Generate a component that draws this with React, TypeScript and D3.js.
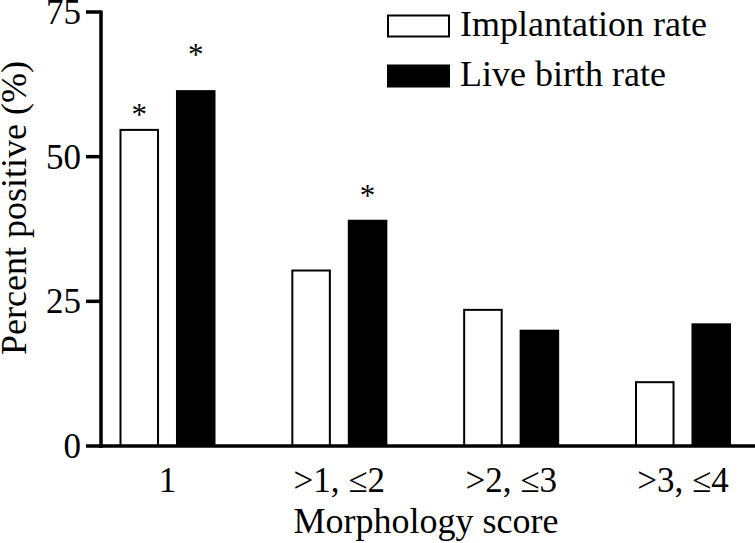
import React from "react";
import * as d3 from "d3";

const categories = ["1", ">1, \u22642", ">2, \u22643", ">3, \u22644"];
const seriesNames = ["Implantation rate", "Live birth rate"];
const implantation = [54.8, 30.5, 23.7, 11.2];
const liveBirth = [61.5, 39.1, 20.1, 21.2];
const yTicks = [0, 25, 50, 75];
// significance markers: category index, series index, level (in % units) of the asterisk baseline
const starCat = [0, 0, 1];
const starSeries = [0, 1, 1];
const starLevel = [55.5, 65.8, 41.5];

const W = 755;
const H = 543;
const FF = "'Liberation Serif', 'Times New Roman', Times, serif";

export default function App() {
  const y = d3.scaleLinear().domain([0, 75]).range([446, 12]);
  const x = d3.scalePoint<string>().domain(categories).range([167.5, 683]);
  const inner = d3
    .scaleBand<string>()
    .domain(seriesNames)
    .range([-48, 48])
    .paddingInner(0.3)
    .paddingOuter(0);
  const values = [implantation, liveBirth];
  const colors = ["#ffffff", "#000000"];
  const axisX = 101;
  const T = (props: any) => (
    <text {...props} fontFamily={FF} style={{ fontFamily: FF }} />
  );

  return (
    <svg
      width={W}
      height={H}
      className="chart-svg"
      style={{ position: "absolute", left: 0, top: 0, background: "#fff", fontFamily: FF }}
    >
      <style>{`.chart-svg text, .chart-svg tspan { font-family: ${FF} !important; }`}</style>
      <rect x={0} y={0} width={W} height={H} fill="#fff" />
      {/* bars */}
      {seriesNames.map((s, si) =>
        categories.map((c, ci) => {
          const x0 = (x(c) as number) + (inner(s) as number);
          const v = values[si][ci];
          const sw = si === 0 ? 2 : 0;
          return (
            <rect
              key={s + c}
              x={x0 + sw / 2}
              y={y(v) + sw / 2}
              width={inner.bandwidth() - sw}
              height={y(0) - y(v) - sw / 2}
              fill={colors[si]}
              stroke={si === 0 ? "#000" : "none"}
              strokeWidth={sw}
            />
          );
        })
      )}
      {/* asterisks */}
      {starCat.map((ci, i) => {
        const s = seriesNames[starSeries[i]];
        const cx = (x(categories[ci]) as number) + (inner(s) as number) + inner.bandwidth() / 2;
        return (
          <T key={"st" + i} x={cx} y={y(starLevel[i])} fontSize={31} textAnchor="middle">
            *
          </T>
        );
      })}
      {/* y axis */}
      <line x1={axisX} x2={axisX} y1={y(75) - 1.5} y2={y(0) + 1.75} stroke="#000" strokeWidth={3.5} />
      {yTicks.map((t) => (
        <g key={"yt" + t}>
          <line x1={86} x2={axisX} y1={y(t)} y2={y(t)} stroke="#000" strokeWidth={3.5} />
          <T x={81} y={y(t)} dy="0.34em" fontSize={35} textAnchor="end">
            {t}
          </T>
        </g>
      ))}
      {/* x axis */}
      <line x1={axisX - 1.75} x2={W} y1={y(0)} y2={y(0)} stroke="#000" strokeWidth={3.5} />
      {categories.map((c) => (
        <T key={"xt" + c} x={x(c) as number} y={492} fontSize={35} textAnchor="middle">
          {c}
        </T>
      ))}
      <T x={426} y={533} fontSize={36} textAnchor="middle">
        Morphology score
      </T>
      <T transform={`translate(26, 208) rotate(-90)`} fontSize={36} textAnchor="middle">
        Percent positive (%)
      </T>
      {/* legend */}
      {seriesNames.map((s, si) => (
        <g key={"lg" + s} transform={`translate(387, ${[14.5, 64.5][si]})`}>
          <rect
            x={si === 0 ? 1 : 0}
            y={si === 0 ? 1 : 0}
            width={si === 0 ? 61 : 63}
            height={si === 0 ? 21 : 23}
            fill={colors[si]}
            stroke={si === 0 ? "#000" : "none"}
            strokeWidth={2}
          />
          <T x={73} y={21} fontSize={36}>
            {s}
          </T>
        </g>
      ))}
    </svg>
  );
}
